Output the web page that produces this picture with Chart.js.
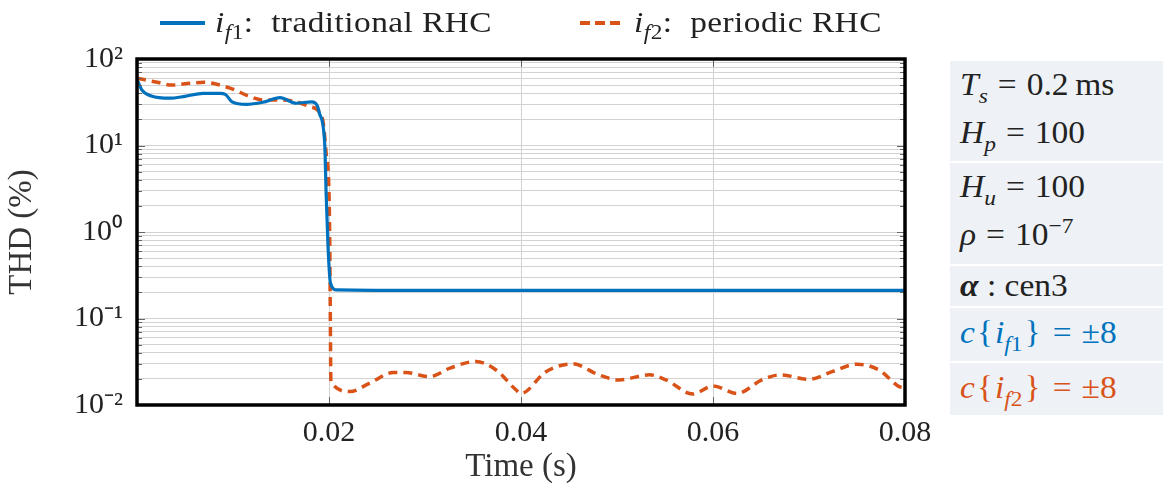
<!DOCTYPE html>
<html>
<head>
<meta charset="utf-8">
<script src="https://cdn.jsdelivr.net/npm/chart.js@4.4.1/dist/chart.umd.min.js"></script>
<style>
  body { margin: 0; background: #fff; font-family: "Liberation Serif", serif; color: #222; }
  #wrap { position: relative; width: 1163px; height: 493px; }
  #chart { position: absolute; left: 0; top: 0; }
  .legend { position: absolute; top: 4px; font-size: 29px; white-space: nowrap; line-height: 36px; }
  .legend .swatch { position: absolute; top: 17px; height: 3.5px; }
  .legend .txt { display: inline-block; transform: scaleX(1.15); transform-origin: left center; letter-spacing: 0.4px; }
  .panel { position: absolute; left: 950px; top: 61px; width: 213px; }
  .panel .grp { background: #eef2f6; border-bottom: 2px solid #fff; padding-left: 10px; }
  .panel .row { font-size: 31px; line-height: 48px; white-space: nowrap; transform: scaleX(1.08); transform-origin: left center; }
  .eq { margin: 0 0.3em; }
  .br { margin: 0 0.06em; }
  sub { font-size: 0.7em; vertical-align: -0.35em; line-height: 0; }
  sup { font-size: 0.7em; vertical-align: 0.55em; line-height: 0; }
</style>
</head>
<body>
<div id="wrap">
  <canvas id="chart" width="1163" height="493"></canvas>
  <div class="legend" style="left:160px;">
    <span class="swatch" style="left:0; width:45px; background:#0072BD;"></span>
    <span class="txt" style="margin-left:55px;"><i>i</i><sub><i>f</i>1</sub>:&nbsp; traditional RHC</span>
  </div>
  <div class="legend" style="left:580px;">
    <span class="swatch" style="left:0; width:40px; background:repeating-linear-gradient(to right, #D95319 0 10px, transparent 10px 15px);"></span>
    <span class="txt" style="margin-left:54px;"><i>i</i><sub><i>f</i>2</sub>:&nbsp; periodic RHC</span>
  </div>
  <div class="panel">
    <div class="grp" style="height:100px;">
      <div class="row"><i>T</i><sub><i>s</i></sub><span class="eq">=</span>0.2&thinsp;ms</div>
      <div class="row"><i>H</i><sub><i>p</i></sub><span class="eq">=</span>100</div>
    </div>
    <div class="grp" style="height:101px;">
      <div class="row"><i>H</i><sub><i>u</i></sub><span class="eq">=</span>100</div>
      <div class="row"><i>ρ</i><span class="eq">=</span>10<sup>−7</sup></div>
    </div>
    <div class="grp" style="height:40px;">
      <div class="row" style="line-height:40px;"><b><i>α</i></b> : cen3</div>
    </div>
    <div class="grp" style="height:53px;">
      <div class="row" style="line-height:50px; color:#0072BD;"><i>c</i><span class="br">{</span><i>i</i><sub><i>f</i>1</sub><span class="br">}</span><span class="eq">=</span>±8</div>
    </div>
    <div class="grp" style="height:52px; border-bottom:none;">
      <div class="row" style="line-height:50px; color:#D95319;"><i>c</i><span class="br">{</span><i>i</i><sub><i>f</i>2</sub><span class="br">}</span><span class="eq">=</span>±8</div>
    </div>
  </div>
</div>
<script>
// i_f1: traditional RHC
const timeF1 = [0, 0.0005, 0.0015, 0.0034, 0.005, 0.0069, 0.0086, 0.0092, 0.0099, 0.0114, 0.0131, 0.0149,
  0.0166, 0.0182, 0.0188, 0.019, 0.01955, 0.0197, 0.0199, 0.02015, 0.0208, 0.03, 0.05, 0.07, 0.08];
const thdF1 = [58, 44, 37.3, 35.2, 37, 40.1, 40, 39, 32, 29.9, 31.6, 35.7,
  30.8, 32, 28.5, 23.6, 10.7, 2.83, 0.676, 0.257, 0.214, 0.211, 0.211, 0.211, 0.211];

// i_f2: periodic RHC
const timeF2 = [0, 0.0021, 0.0036, 0.0055, 0.007, 0.0086, 0.0102, 0.0115, 0.0131, 0.0149, 0.0166, 0.018,
  0.0193, 0.0197, 0.02, 0.02008, 0.02012, 0.0202,
  0.0222, 0.0242, 0.0267, 0.028, 0.0305, 0.0326, 0.0353, 0.0374, 0.0395, 0.04, 0.0426, 0.0454, 0.0481,
  0.0502, 0.0534, 0.0551, 0.0579, 0.06, 0.0625, 0.0651, 0.067, 0.07, 0.0724, 0.075, 0.0773, 0.0794, 0.08];
const thdF2 = [60, 53.8, 50, 52.4, 53.8, 50, 43.9, 37.7, 33.6, 33.6, 32, 28.1,
  20.8, 8.2, 2.83, 0.75, 0.197, 0.0186,
  0.0143, 0.0178, 0.0237, 0.0237, 0.0213, 0.0267, 0.0319, 0.0254, 0.0149, 0.0136, 0.0243, 0.0299, 0.0223,
  0.0195, 0.0223, 0.0195, 0.0134, 0.0166, 0.0136, 0.0195, 0.0223, 0.0198, 0.0243, 0.0296, 0.0254, 0.0163, 0.0158];

const xTicks = [0, 0.02, 0.04, 0.06, 0.08];
const yDecades = [-2, -1, 0, 1, 2];

const BLUE = "#0072BD";
const ORANGE = "#D95319";
const GRID = "#d2d2d2";
const FONT = { family: "'Liberation Serif', serif", size: 30 };
const TITLE_FONT = { family: "'Liberation Serif', serif", size: 33 };

const SUP = { "-": "\u207B", "0": "\u2070", "1": "\u00B9", "2": "\u00B2" };
function decadeLabel(e) {
  return "10" + String(e).split("").map((ch) => SUP[ch]).join("");
}

// every 1..9 x 10^e step, like a pgfplots log axis
const yTickValues = [];
yDecades.forEach((e) => {
  for (let m = 1; m <= 9; m++) {
    if (e === 2 && m > 1) break;
    yTickValues.push(m * Math.pow(10, e));
  }
});

function isDecade(v) {
  const e = Math.log10(v);
  return Math.abs(e - Math.round(e)) < 1e-9;
}

const frameAndTicks = {
  id: "frameAndTicks",
  afterDatasetsDraw(chart) {
    const { ctx, chartArea: a, scales } = chart;
    ctx.save();
    ctx.strokeStyle = "#666";
    ctx.lineWidth = 1;
    yTickValues.forEach((v) => {
      const y = Math.round(scales.y.getPixelForValue(v)) + 0.5;
      const len = isDecade(v) ? 8 : 5;
      ctx.beginPath();
      ctx.moveTo(a.left, y);
      ctx.lineTo(a.left + len, y);
      ctx.moveTo(a.right, y);
      ctx.lineTo(a.right - len, y);
      ctx.stroke();
    });
    xTicks.forEach((v) => {
      const x = Math.round(scales.x.getPixelForValue(v)) + 0.5;
      ctx.beginPath();
      ctx.moveTo(x, a.bottom);
      ctx.lineTo(x, a.bottom - 8);
      ctx.moveTo(x, a.top);
      ctx.lineTo(x, a.top + 8);
      ctx.stroke();
    });
    ctx.strokeStyle = "#000";
    ctx.lineWidth = 3.5;
    ctx.strokeRect(a.left, a.top, a.right - a.left, a.bottom - a.top);
    ctx.restore();
  },
};

new Chart(document.getElementById("chart"), {
  type: "line",
  data: {
    datasets: [
      {
        label: "i_f1: traditional RHC",
        data: timeF1.map((t, i) => ({ x: t, y: thdF1[i] })),
        borderColor: BLUE,
        borderWidth: 3.2,
        pointRadius: 0,
        cubicInterpolationMode: "monotone",
        fill: false,
      },
      {
        label: "i_f2: periodic RHC",
        data: timeF2.map((t, i) => ({ x: t, y: thdF2[i] })),
        borderColor: ORANGE,
        borderWidth: 3.5,
        borderDash: [9, 6],
        pointRadius: 0,
        cubicInterpolationMode: "monotone",
        fill: false,
      },
    ],
  },
  options: {
    responsive: false,
    animation: false,
    layout: { padding: { left: 0, top: 59, right: 258, bottom: 0 } },
    plugins: { legend: { display: false }, tooltip: { enabled: false } },
    scales: {
      x: {
        type: "linear",
        min: 0,
        max: 0.08,
        afterFit: (scale) => { scale.height = 88; },
        afterBuildTicks: (scale) => { scale.ticks = xTicks.map((v) => ({ value: v })); },
        ticks: {
          font: FONT,
          color: "#222",
          padding: 10,
          maxRotation: 0,
          autoSkip: false,
          callback: (v) => (v === 0 ? "" : v.toFixed(2)),
        },
        grid: { color: GRID, lineWidth: 1, drawTicks: false },
        border: { display: false },
        title: { display: true, text: "Time (s)", font: TITLE_FONT, color: "#333", padding: { top: 0, bottom: 6 } },
      },
      y: {
        type: "logarithmic",
        min: 0.01,
        max: 100,
        afterFit: (scale) => { scale.width = 137; },
        afterBuildTicks: (scale) => { scale.ticks = yTickValues.map((v) => ({ value: v })); },
        ticks: {
          font: FONT,
          color: "#222",
          padding: 14,
          autoSkip: false,
          callback: (v) => (isDecade(v) ? decadeLabel(Math.round(Math.log10(v))) : ""),
        },
        grid: { color: GRID, lineWidth: 1, drawTicks: false },
        border: { display: false },
        title: { display: true, text: "THD (%)", font: TITLE_FONT, color: "#333", padding: { top: 3, bottom: 0 } },
      },
    },
  },
  plugins: [frameAndTicks],
});
</script>
</body>
</html>
